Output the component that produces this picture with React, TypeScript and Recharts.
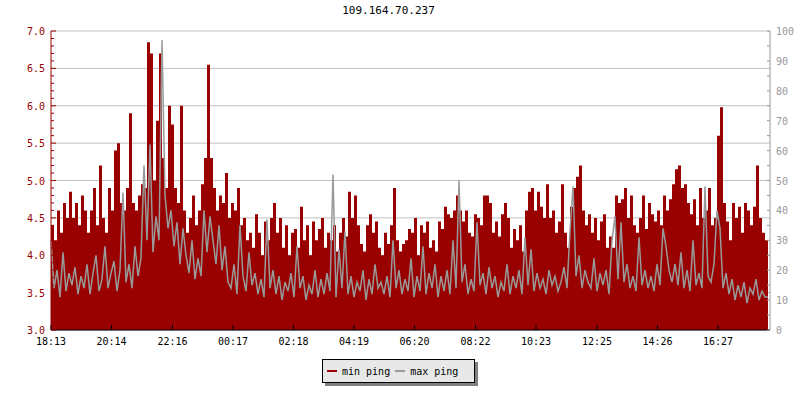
import React from "react"
import { ComposedChart, Area, Line, XAxis, YAxis, CartesianGrid, Legend } from "recharts"

const title = "109.164.70.237"
const FONT = "'DejaVu Sans Mono', monospace"
const RED = "#990000"
const GREY = "#999999"

// one sample every 6 minutes, starting at 18:13
const startLabel = "18:13"
const stepMinutes = 6
const domainEnd = 1438

// min ping (left axis, ms)
const minPing = [
  4.4, 4.2, 4.6, 4.3, 4.7, 4.5, 4.85, 4.5, 4.7, 4.4,
  4.8, 4.6, 4.3, 4.6, 4.9, 4.4, 5.2, 4.5, 4.3, 4.9,
  4.6, 5.4, 5.5, 4.7, 4.6, 4.9, 5.9, 4.7, 4.6, 4.8,
  4.95, 4.9, 6.85, 6.7, 5.0, 5.8, 6.7, 5.3, 4.9, 6.0,
  5.75, 4.9, 4.7, 6.0, 4.6, 4.3, 4.5, 4.8, 4.4, 4.6,
  4.95, 5.3, 6.55, 5.3, 4.9, 4.6, 4.8, 4.7, 5.1, 4.5,
  4.7, 4.6, 4.9, 4.4, 4.5, 4.2, 4.3, 4.1, 4.55, 4.3,
  4.0, 4.45, 4.2, 4.5, 4.7, 4.3, 4.5, 4.1, 4.4, 4.0,
  4.3, 4.35, 4.1, 4.65, 4.2, 4.4, 4.0, 4.45, 4.2, 4.35,
  4.5, 4.1, 4.3, 4.2, 4.4, 4.05, 4.3, 4.5, 4.25, 4.85,
  4.5, 4.8, 4.4, 4.15, 4.05, 4.4, 4.55, 4.3, 4.45, 4.1,
  4.0, 4.3, 4.15, 4.4, 4.9, 4.2, 4.05, 4.15, 4.2, 4.35,
  4.3, 4.5, 4.0, 4.4, 4.3, 4.45, 4.1, 4.2, 4.05, 4.45,
  4.35, 4.65, 4.55, 4.5, 4.6, 4.8, 4.6, 4.45, 4.6, 4.3,
  4.25, 4.55, 4.5, 4.4, 4.8, 4.8, 4.7, 4.3, 4.45, 4.25,
  4.55, 4.7, 4.5, 4.1, 4.35, 4.2, 4.4, 4.05, 4.6, 4.85,
  4.9, 4.6, 4.85, 4.65, 4.5, 4.95, 4.5, 4.6, 4.3, 4.45,
  4.95, 4.3, 4.1, 4.65, 4.9, 5.05, 5.2, 4.6, 4.4, 4.55,
  4.3, 4.5, 4.2, 4.45, 4.55, 4.1, 4.25, 4.1, 4.8, 4.7,
  4.75, 4.9, 4.5, 4.8, 4.4, 4.3, 4.5, 4.8, 4.35, 4.7,
  4.55, 4.45, 4.6, 4.4, 4.8, 4.6, 4.75, 4.95, 5.15, 5.2,
  4.9, 4.95, 4.7, 4.55, 4.75, 4.4, 4.9, 4.5, 4.6, 4.9,
  4.4, 4.5, 5.6, 5.98, 4.7, 4.45, 4.2, 4.7, 4.5, 4.65,
  4.3, 4.7, 4.6, 4.4, 4.65, 5.2, 4.5, 4.3, 4.2,
]

// max ping (right axis)
const maxPing = [
  30, 14, 20, 11, 26, 13, 19, 15, 21, 12,
  18, 14, 22, 12, 19, 25, 13, 17, 28, 14,
  19, 23, 13, 20, 46, 16, 22, 14, 28, 18,
  24, 55, 30, 62, 26, 38, 30, 97, 45, 34,
  40, 28, 36, 22, 34, 25, 19, 30, 17, 24,
  18, 40, 26, 38, 30, 22, 35, 20, 28, 16,
  14, 22, 12, 35, 18, 13, 26, 15, 19, 12,
  17, 11, 37, 14, 20, 12, 18, 10, 16, 13,
  19, 11, 28, 14, 18, 10, 15, 12, 20, 11,
  17, 12, 19, 13, 52, 11, 27, 14, 33, 12,
  18, 11, 16, 13, 20, 10, 17, 12, 22, 14,
  16, 12, 18, 11, 30, 14, 20, 12, 17, 13,
  24, 11, 18, 13, 28, 12, 19, 14, 22, 11,
  18, 13, 20, 12, 30, 14, 50, 16, 22, 12,
  17, 13, 36, 15, 19, 12, 21, 14, 18, 11,
  16, 13, 22, 12, 18, 14, 20, 12, 31, 15,
  27, 13, 19, 14, 17, 12, 20, 15, 18, 13,
  16, 21, 14, 33, 48, 18, 25, 14, 20, 16,
  14, 24, 13, 19, 15, 20, 12, 30, 38, 17,
  36, 16, 22, 14, 18, 13, 31, 15, 20, 14,
  18, 13, 22, 15, 34, 28, 20, 16, 22, 15,
  26, 14, 20, 13, 30, 15, 19, 14, 48, 18,
  16, 22, 40, 34, 14, 19, 12, 17, 10, 15,
  11, 16, 9, 14, 12, 17, 10, 13, 11,
]

const timeLabels = [
  "18:13", "20:14", "22:16", "00:17", "02:18", "04:19",
  "06:20", "08:22", "10:23", "12:25", "14:26", "16:27",
]

const leftMajor = [3.0, 3.5, 4.0, 4.5, 5.0, 5.5, 6.0, 6.5, 7.0]
const leftTicks = [
  3.0, 3.1, 3.2, 3.3, 3.4, 3.5, 3.6, 3.7, 3.8, 3.9,
  4.0, 4.1, 4.2, 4.3, 4.4, 4.5, 4.6, 4.7, 4.8, 4.9,
  5.0, 5.1, 5.2, 5.3, 5.4, 5.5, 5.6, 5.7, 5.8, 5.9,
  6.0, 6.1, 6.2, 6.3, 6.4, 6.5, 6.6, 6.7, 6.8, 6.9, 7.0,
]
const rightTicks = [0, 5, 10, 15, 20, 25, 30, 35, 40, 45, 50, 55, 60, 65, 70, 75, 80, 85, 90, 95, 100]

const seriesOrder = ["min ping", "max ping"]

const toMinutes = (s: string) => {
  const [h, m] = s.split(":").map(Number)
  return h * 60 + m
}
const offsetOf = (s: string) => (toMinutes(s) - toMinutes(startLabel) + 1440) % 1440
const timeTicks = timeLabels.map(offsetOf)
const labelAt: Record<number, string> = {}
timeLabels.forEach((l) => (labelAt[offsetOf(l)] = l))

const data = minPing.map((v, i) => ({ t: i * stepMinutes, min: v, max: maxPing[i] }))
// close the last step
data.push({ t: minPing.length * stepMinutes, min: minPing[minPing.length - 1], max: maxPing[maxPing.length - 1] })

const isMajor = (v: number) => Math.abs(v * 2 - Math.round(v * 2)) < 1e-6

function LeftTick(props: any) {
  const { x, y, payload } = props
  const v = payload.value
  const major = isMajor(v)
  return (
    <g>
      <line x1={x} x2={x + (major ? 5 : 3)} y1={y} y2={y} stroke={RED} />
      {major && (
        <text x={x - 6} y={y + 4} textAnchor="end" fill={RED} fontSize={10} fontFamily={FONT}>
          {v.toFixed(1)}
        </text>
      )}
    </g>
  )
}

function RightTick(props: any) {
  const { x, y, payload } = props
  const v = payload.value
  return (
    <g>
      <line x1={x - 3} x2={x} y1={y} y2={y} stroke={GREY} />
      {v % 10 === 0 && (
        <text x={x + 6} y={y + 4} textAnchor="start" fill={GREY} fontSize={10} fontFamily={FONT}>
          {v}
        </text>
      )}
    </g>
  )
}

function TimeTick(props: any) {
  const { x, y, payload } = props
  return (
    <g>
      <line x1={x} x2={x} y1={y} y2={y - 5} stroke="#000" />
      <text x={x} y={y + 15} textAnchor="middle" fill="#000" fontSize={10} fontFamily={FONT}>
        {labelAt[payload.value]}
      </text>
    </g>
  )
}

const gridRows = ({ yAxis, offset }: any) => {
  const s = yAxis?.scale
  if (typeof s === "function") return leftMajor.map((v) => s(v))
  return leftMajor.map((v) => offset.top + ((7 - v) / 4) * offset.height)
}

const legendColors: Record<string, string> = { "min ping": RED, "max ping": GREY }

function LegendBox(props: any) {
  const items = [...(props.payload || [])].sort(
    (a: any, b: any) => seriesOrder.indexOf(a.value) - seriesOrder.indexOf(b.value)
  )
  return (
    <div
      style={{
        width: 153,
        height: 24,
        boxSizing: "border-box",
        border: "1px solid #000",
        background: "#e8e8e8",
        boxShadow: "3px 3px 0 #808080",
        display: "flex",
        alignItems: "center",
        paddingLeft: 4,
        fontFamily: FONT,
        fontSize: 10,
        color: "#000",
      }}
    >
      {items.map((item: any) => (
        <span key={item.value} style={{ display: "inline-flex", alignItems: "center", marginRight: 5 }}>
          <span style={{ display: "inline-block", width: 10, height: 2, background: legendColors[item.value], marginRight: 5 }} />
          {item.value}
        </span>
      ))}
    </div>
  )
}

export default function App() {
  return (
    <div style={{ position: "absolute", left: 0, top: 0, width: 800, height: 400, background: "#fff" }}>
      <div
        style={{
          position: "absolute",
          left: 0,
          top: 4,
          width: 777,
          textAlign: "center",
          fontFamily: FONT,
          fontSize: 11,
          color: "#000",
        }}
      >
        {title}
      </div>
      <ComposedChart width={800} height={400} data={data} margin={{ top: 31, right: 0, bottom: 40, left: 0 }}>
        <CartesianGrid yAxisId="left" vertical={false} stroke="#c0c0c0" horizontalCoordinatesGenerator={gridRows} />
        <XAxis
          dataKey="t"
          type="number"
          domain={[0, domainEnd]}
          ticks={timeTicks}
          interval={0}
          height={30}
          tickSize={0}
          tickMargin={0}
          tickLine={false}
          stroke="#000"
          tick={<TimeTick />}
        />
        <YAxis
          yAxisId="left"
          orientation="left"
          domain={[3, 7]}
          ticks={leftTicks}
          interval={0}
          width={51}
          tickSize={0}
          tickMargin={0}
          tickLine={false}
          stroke={RED}
          tick={<LeftTick />}
        />
        <YAxis
          yAxisId="right"
          orientation="right"
          domain={[0, 100]}
          ticks={rightTicks}
          interval={0}
          width={30}
          tickSize={0}
          tickMargin={0}
          tickLine={false}
          stroke={GREY}
          tick={<RightTick />}
        />
        <Area
          yAxisId="left"
          dataKey="min"
          name="min ping"
          type="stepAfter"
          fill={RED}
          fillOpacity={1}
          stroke="none"
          baseValue="dataMin"
          isAnimationActive={false}
        />
        <Line
          yAxisId="right"
          dataKey="max"
          name="max ping"
          type="linear"
          stroke={GREY}
          strokeWidth={1.5}
          dot={false}
          isAnimationActive={false}
        />
        <Legend
          layout="horizontal"
          verticalAlign="middle"
          align="center"
          wrapperStyle={{ left: 322, top: 359, width: 160, height: 30 }}
          content={<LegendBox />}
        />
      </ComposedChart>
    </div>
  )
}
